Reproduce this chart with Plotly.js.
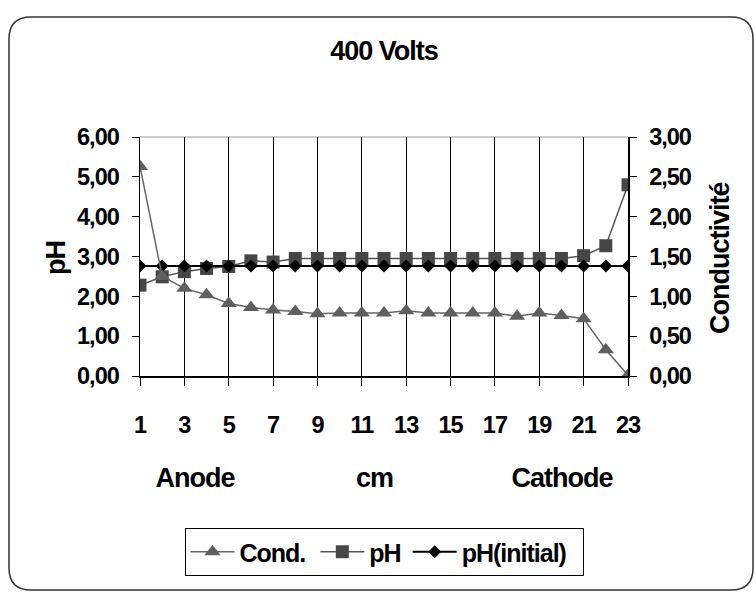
<!DOCTYPE html>
<html>
<head>
<meta charset="utf-8">
<script src="https://cdn.plot.ly/plotly-3.0.1.min.js"></script>
<style>
html,body{margin:0;padding:0;background:#fff;}
#chart{width:755px;height:592px;}
#chart text{letter-spacing:-1px;}
</style>
</head>
<body>
<div id="chart"></div>
<script>
// ---- data ----
const positions = [1,2,3,4,5,6,7,8,9,10,11,12,13,14,15,16,17,18,19,20,21,22,23];
const condValues = [2.63,1.25,1.10,1.02,0.91,0.86,0.83,0.81,0.78,0.79,0.79,0.79,0.82,0.79,0.79,0.79,0.79,0.75,0.79,0.76,0.72,0.33,0.01];
const phValues = [2.28,2.49,2.62,2.70,2.75,2.89,2.86,2.95,2.95,2.95,2.95,2.95,2.95,2.95,2.95,2.95,2.95,2.95,2.95,2.95,3.02,3.27,4.80];
const phInitialValues = [2.76,2.76,2.76,2.76,2.76,2.76,2.76,2.76,2.76,2.76,2.76,2.76,2.76,2.76,2.76,2.76,2.76,2.76,2.76,2.76,2.76,2.76,2.76];
const seriesNames = ["Cond.", "pH", "pH(initial)"];
const xTickVals = [1,3,5,7,9,11,13,15,17,19,21,23];
const titleText = "400 Volts";
const xLabels = ["Anode", "cm", "Cathode"];
const yTitle = "pH";
const y2Title = "Conductivité";

// ---- layout geometry ----
const W = 755, H = 592;
const M = {l:140, r:127, t:137, b:216};
const PW = W - M.l - M.r, PH = H - M.t - M.b;
const px = x => (x - M.l) / PW;
const py = y => (H - M.b - y) / PH;

const FONT = "Liberation Sans, Arial, sans-serif";
const tickFont = {family: FONT, size: 23.5, color: "#000", weight: "bold"};
const titleFont = {family: FONT, size: 27, color: "#000", weight: "bold"};

// rounded frame path in paper coords
function framePath(x0, y0, x1, y1, r) {
  const P = (x, y) => px(x).toFixed(5) + "," + py(y).toFixed(5);
  return "M" + P(x0 + r, y0) + " L" + P(x1 - r, y0) + " Q" + P(x1, y0) + " " + P(x1, y0 + r) +
         " L" + P(x1, y1 - r) + " Q" + P(x1, y1) + " " + P(x1 - r, y1) +
         " L" + P(x0 + r, y1) + " Q" + P(x0, y1) + " " + P(x0, y1 - r) +
         " L" + P(x0, y0 + r) + " Q" + P(x0, y0) + " " + P(x0 + r, y0) + " Z";
}

const traces = [
  {
    x: positions, y: condValues, name: seriesNames[0], yaxis: "y2",
    type: "scatter", mode: "lines+markers",
    line: {color: "#666666", width: 1.5},
    marker: {symbol: "triangle-up", size: 14, color: "#5f5f5f"}
  },
  {
    x: positions, y: phValues, name: seriesNames[1],
    type: "scatter", mode: "lines+markers",
    line: {color: "#555555", width: 1.5},
    marker: {symbol: "square", size: 13, color: "#464646"}
  },
  {
    x: positions, y: phInitialValues, name: seriesNames[2],
    type: "scatter", mode: "lines+markers",
    line: {color: "#000000", width: 2},
    marker: {symbol: "diamond", size: 10, color: "#000000"}
  }
];

function ann(text, x, y, angle) {
  return {text: text, xref: "paper", yref: "paper", x: px(x), y: py(y), showarrow: false,
          textangle: angle || 0, xanchor: "center", yanchor: "middle", font: titleFont};
}

const layout = {
  width: W, height: H,
  margin: M,
  paper_bgcolor: "#fff", plot_bgcolor: "#fff",
  separators: ", ",
  showlegend: true,
  font: {family: FONT, color: "#000"},
  title: {
    text: titleText, font: titleFont,
    x: px(384), xref: "paper", xanchor: "center",
    y: 1 - 51 / H, yref: "container", yanchor: "middle"
  },
  xaxis: {
    range: [1, 23], tickmode: "array", tickvals: xTickVals,
    showgrid: true, gridcolor: "#000", gridwidth: 1,
    zeroline: false, showline: true, linecolor: "#000", linewidth: 1.5,
    ticks: "outside", ticklen: 8, tickcolor: "#000", tickwidth: 1,
    tickfont: tickFont, ticklabelstandoff: 19
  },
  yaxis: {
    range: [0, 6], dtick: 1, tick0: 0, tickformat: ".2f",
    showgrid: false, zeroline: false, showline: true, linecolor: "#000", linewidth: 1.5,
    ticks: "outside", ticklen: 7, tickcolor: "#000", tickwidth: 1,
    tickfont: tickFont, ticklabelstandoff: 8
  },
  yaxis2: {
    overlaying: "y", side: "right",
    range: [0, 3], dtick: 0.5, tick0: 0, tickformat: ".2f",
    showgrid: false, zeroline: false, showline: true, linecolor: "#000", linewidth: 1.5,
    ticks: "outside", ticklen: 7, tickcolor: "#000", tickwidth: 1,
    tickfont: tickFont, ticklabelstandoff: 8
  },
  legend: {
    orientation: "h", x: px(384), xanchor: "center", y: py(528), yanchor: "top",
    bordercolor: "#000", borderwidth: 1, bgcolor: "#fff",
    font: {family: FONT, size: 25, weight: "bold", color: "#000"},
    itemwidth: 44, tracegroupgap: 0
  },
  annotations: [
    ann(xLabels[0], 195, 478),
    ann(xLabels[1], 374, 478),
    ann(xLabels[2], 562, 478),
    ann(yTitle, 56, 258, -90),
    ann(y2Title, 720, 258, -90)
  ],
  shapes: [
    {type: "line", xref: "paper", yref: "paper", x0: 0, x1: 1, y0: 1, y1: 1,
     line: {color: "#9a9a9a", width: 1}, layer: "below"},
    {type: "path", xref: "paper", yref: "paper", path: framePath(9, 17, 753, 590, 22),
     line: {color: "#333", width: 1.5}, fillcolor: "rgba(0,0,0,0)", layer: "below"}
  ]
};

Plotly.newPlot("chart", traces, layout, {displayModeBar: false, staticPlot: true});
</script>
</body>
</html>
